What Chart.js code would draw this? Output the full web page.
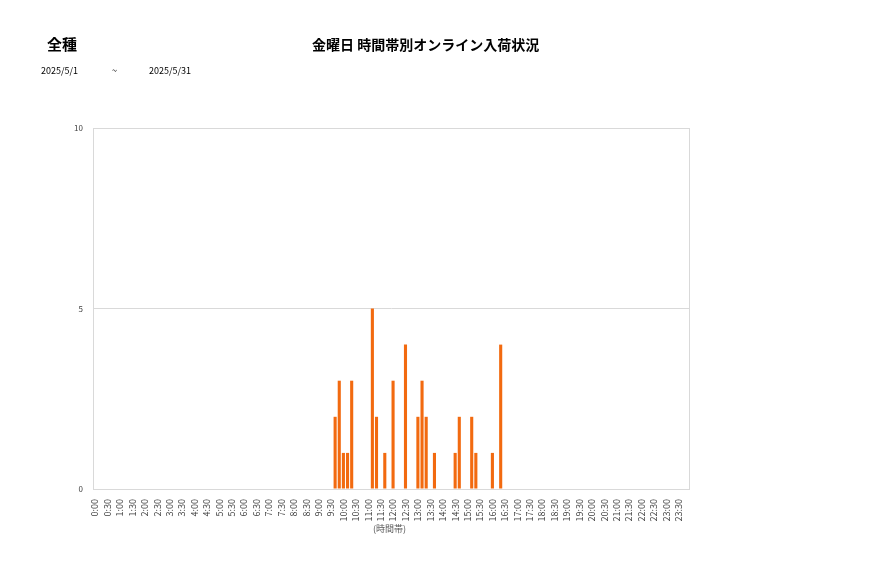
<!DOCTYPE html>
<html>
<head>
<meta charset="utf-8">
<script src="https://cdn.jsdelivr.net/npm/chart.js@4"></script>
<style>
  body { margin: 0; background: #fff; font-family: "Noto Sans CJK JP", sans-serif; }
  #wrap { position: relative; width: 877px; height: 578px; }
  canvas { position: absolute; left: 0; top: 0; }
  .txt { position: absolute; white-space: nowrap; color: #000; }
</style>
</head>
<body>
<div id="wrap">
  <canvas id="Chart1" width="877" height="578"></canvas>
  <div class="txt" style="left:47px;top:33px;font-size:15px;font-weight:bold;">全種</div>
  <div class="txt" style="left:312px;top:34px;font-size:14px;font-weight:bold;">金曜日 時間帯別オンライン入荷状況</div>
  <div class="txt" style="left:41px;top:64px;font-size:9px;">2025/5/1</div>
  <div class="txt" style="left:112px;top:64px;font-size:9px;">~</div>
  <div class="txt" style="left:149px;top:64px;font-size:9px;">2025/5/31</div>
  <div class="txt" style="left:373px;top:522px;font-size:9px;color:#595959;">(時間帯)</div>
</div>
<script>
// 10分刻み 144 区間 (0:00 ~ 23:50)
const hours = ['0','1','2','3','4','5','6','7','8','9','10','11','12','13','14','15','16','17','18','19','20','21','22','23'];
const minutes = ['00','10','20','30','40','50'];
const slots = [];
hours.forEach(h => minutes.forEach(m => slots.push(h + ':' + m)));

// 入荷件数 (1行 = 2時間)
const counts = [
  0,0,0,0,0,0, 0,0,0,0,0,0,   // 0:00-1:50
  0,0,0,0,0,0, 0,0,0,0,0,0,   // 2:00-3:50
  0,0,0,0,0,0, 0,0,0,0,0,0,   // 4:00-5:50
  0,0,0,0,0,0, 0,0,0,0,0,0,   // 6:00-7:50
  0,0,0,0,0,0, 0,0,0,0,2,3,   // 8:00-9:50
  1,1,3,0,0,0, 0,5,2,0,1,0,   // 10:00-11:50
  3,0,0,4,0,0, 2,3,2,0,1,0,   // 12:00-13:50
  0,0,0,1,2,0, 0,2,1,0,0,0,   // 14:00-15:50
  1,0,4,0,0,0, 0,0,0,0,0,0,   // 16:00-17:50
  0,0,0,0,0,0, 0,0,0,0,0,0,   // 18:00-19:50
  0,0,0,0,0,0, 0,0,0,0,0,0,   // 20:00-21:50
  0,0,0,0,0,0, 0,0,0,0,0,0    // 22:00-23:50
];

const yTicks = [0, 5, 10];

// 枠線
const frame = {
  id: 'frame',
  afterDraw(chart) {
    const a = chart.chartArea, c = chart.ctx;
    c.save();
    c.strokeStyle = '#d9d9d9';
    c.lineWidth = 1;
    c.strokeRect(Math.round(a.left) + 0.5, Math.round(a.top) + 0.5, Math.round(a.right - a.left), Math.round(a.bottom - a.top));
    c.restore();
  }
};

new Chart(document.getElementById('Chart1'), {
  type: 'bar',
  data: {
    labels: slots,
    datasets: [{
      data: counts,
      backgroundColor: '#f26a10',
      barPercentage: 0.75,
      categoryPercentage: 1.0
    }]
  },
  options: {
    responsive: false,
    animation: false,
    layout: { padding: { left: 0, right: 188, top: 128, bottom: 0 } },
    plugins: { legend: { display: false }, tooltip: { enabled: false } },
    scales: {
      x: {
        grid: { display: false },
        border: { color: '#d9d9d9' },
        ticks: {
          autoSkip: false,
          maxRotation: 90,
          minRotation: 90,
          padding: 2,
          color: '#404040',
          font: { family: 'Noto Sans CJK JP', size: 9 },
          callback: (v, i) => (i % 3 === 0 ? slots[i] : '')
        },
        afterFit: s => { s.height = 89; }
      },
      y: {
        min: 0,
        max: 10,
        afterBuildTicks: s => { s.ticks = yTicks.map(v => ({ value: v })); },
        grid: { color: '#d9d9d9', drawTicks: false },
        border: { color: '#d9d9d9' },
        ticks: {
          padding: 10,
          color: '#404040',
          font: { family: 'Noto Sans CJK JP', size: 8 }
        },
        afterFit: s => { s.width = 93; }
      }
    }
  },
  plugins: [frame]
});
</script>
</body>
</html>
